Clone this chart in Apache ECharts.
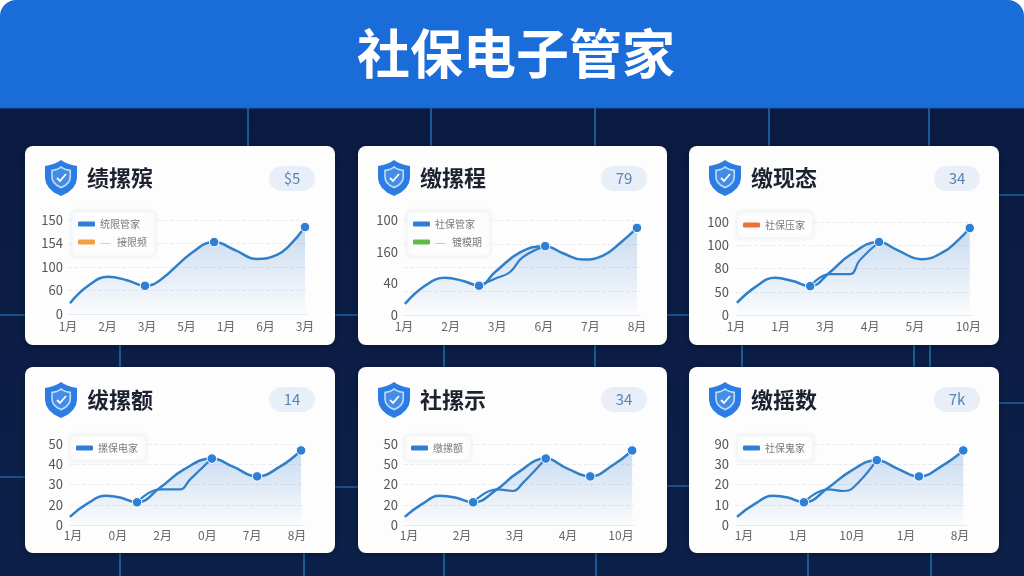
<!DOCTYPE html>
<html>
<head>
<meta charset="utf-8">
<style>html,body{margin:0;padding:0;background:#fff}#c{width:1024px;height:576px}</style>
<script src="https://cdn.jsdelivr.net/npm/echarts@6/dist/echarts.min.js"></script>
</head>
<body>
<div id="c"></div>
<script>
const FONT = '"Noto Sans CJK SC","Noto Sans",sans-serif';
const headerTitle = '社保电子管家';

const titles = ['绩摞殡', '缴摞程', '缴现态', '绂摞额', '社摞示', '缴摇数'];
const badges = ['$5', '79', '34', '14', '34', '7k'];

const chart1Months = ['1月', '2月', '3月', '5月', '1月', '6月', '3月'];
const chart2Months = ['1月', '2月', '3月', '6月', '7月', '8月'];
const chart3Months = ['1月', '1月', '3月', '4月', '5月', '10月'];
const chart4Months = ['1月', '0月', '2月', '0月', '7月', '8月'];
const chart5Months = ['1月', '2月', '3月', '4月', '10月'];
const chart6Months = ['1月', '1月', '10月', '1月', '8月'];

const chart1Ticks = ['0', '60', '100', '154', '150'];
const chart2Ticks = ['0', '40', '160', '100'];
const chart3Ticks = ['0', '50', '80', '100', '100'];
const chart4Ticks = ['0', '20', '30', '40', '50'];
const chart5Ticks = ['0', '20', '20', '50', '50'];
const chart6Ticks = ['0', '10', '20', '30', '90'];

const chart1X = [0.05, 0.51, 1.01, 1.49, 1.95, 2.33, 3.16, 3.70, 4.23, 4.78, 5.29, 5.62, 6.0];
const chart1Y = [23, 60, 79, 72, 60, 72, 132, 153, 136, 117, 126, 147, 185];
const chart2X = [0.02, 0.45, 0.88, 1.27, 1.61, 1.95, 2.49, 3.03, 3.41, 3.84, 4.27, 4.64, 5.0];
const chart2Y = [14, 37, 47, 43, 37, 54, 79, 87, 78, 70, 75, 91, 110];
const chart2BranchX = [1.61, 2.0, 2.27, 2.55, 3.03];
const chart2BranchY = [37, 47, 54, 73, 87];
const chart3X = [0.02, 0.43, 0.87, 1.27, 1.66, 2.1, 2.55, 3.2, 3.6, 4.16, 4.63, 4.97, 5.23];
const chart3Y = [26, 60, 80, 73, 62, 92, 129, 157, 140, 120, 135, 161, 187];
const chart3BranchX = [1.66, 2.1, 2.55, 2.77, 3.2];
const chart3BranchY = [62, 88, 88, 118, 157];
const chart4X = [-0.07, 0.31, 0.74, 1.05, 1.43, 1.94, 2.46, 3.1, 3.57, 4.11, 4.62, 5.09];
const chart4Y = [5, 13, 18, 17, 14, 23, 34, 41, 36, 30, 36, 46];
const chart4BranchX = [1.43, 1.94, 2.39, 2.61, 3.1];
const chart4BranchY = [14, 22, 22, 28, 41];
const chart5X = [-0.08, 0.25, 0.58, 0.87, 1.21, 1.66, 2.04, 2.58, 2.98, 3.42, 3.85, 4.21];
const chart5Y = [5, 13, 18, 17, 14, 22, 32, 41, 35, 30, 37, 46];
const chart5BranchX = [1.21, 1.66, 1.96, 2.15, 2.58];
const chart5BranchY = [14, 22, 21, 26, 41];
const chart6X = [-0.13, 0.2, 0.54, 0.81, 1.11, 1.56, 1.96, 2.46, 2.83, 3.24, 3.69, 4.06];
const chart6Y = [5, 13, 18, 17, 14, 23, 33, 40, 35, 30, 37, 46];
const chart6BranchX = [1.11, 1.56, 1.83, 2.02, 2.46];
const chart6BranchY = [14, 22, 21, 23, 40];

const chart1Marks = [4, 7, 12];
const chart2Marks = [4, 7, 12];
const chart3Marks = [4, 7, 12];
const chart4Marks = [4, 7, 9, 11];
const chart5Marks = [4, 7, 9, 11];
const chart6Marks = [4, 7, 9, 11];

const chart1Legend = ['统限管家', '接限频'];
const chart2Legend = ['社保管家', '镀模期'];
const chart3Legend = ['社保压家'];
const chart4Legend = ['摞保电家'];
const chart5Legend = ['缴摞额'];
const chart6Legend = ['社保鬼家'];

/* ---- layout and style ---- */
const BLUE = '#2f7fc9';
const charts = [
  {x: chart1X, y: chart1Y, marks: chart1Marks, months: chart1Months, ticks: chart1Ticks, legend: chart1Legend,
   legendColors: ['#2f7fd6', '#f0a040'], dash: '#eeb08a', max: 200, interval: 50,
   L: 68, R: 307, T: 220, H: 94, first: 68, step: 39.5, yMargin: 5, xMargin: 6, legendBox: [72, 211]},
  {x: chart2X, y: chart2Y, bx: chart2BranchX, by: chart2BranchY, marks: chart2Marks, months: chart2Months, ticks: chart2Ticks, legend: chart2Legend,
   legendColors: ['#2f7fd6', '#62bb46'], dash: '#8fc0d0', max: 120, interval: 40,
   L: 404, R: 640, T: 220, H: 95, first: 404, step: 46.6, yMargin: 6, xMargin: 5, legendBox: [407, 211]},
  {x: chart3X, y: chart3Y, bx: chart3BranchX, by: chart3BranchY, marks: chart3Marks, months: chart3Months, ticks: chart3Ticks, legend: chart3Legend,
   legendColors: ['#ee7333'], max: 200, interval: 50, custom: [0, 1, 2, 3, 4, 5.2],
   L: 736, R: 972, T: 222, H: 93, first: 736, step: 44.7, yMargin: 7, xMargin: 5, legendBox: [737, 212]},
  {x: chart4X, y: chart4Y, bx: chart4BranchX, by: chart4BranchY, marks: chart4Marks, months: chart4Months, ticks: chart4Ticks, legend: chart4Legend,
   legendColors: ['#2f7fd6'], max: 50, interval: 12.5,
   L: 70, R: 304, T: 444, H: 81, first: 73, step: 44.8, yMargin: 7, xMargin: 4, legendBox: [70, 435]},
  {x: chart5X, y: chart5Y, bx: chart5BranchX, by: chart5BranchY, marks: chart5Marks, months: chart5Months, ticks: chart5Ticks, legend: chart5Legend,
   legendColors: ['#2f7fd6'], max: 50, interval: 12.5,
   L: 404, R: 634, T: 444, H: 81, first: 409, step: 53, yMargin: 6, xMargin: 4, legendBox: [405, 435]},
  {x: chart6X, y: chart6Y, bx: chart6BranchX, by: chart6BranchY, marks: chart6Marks, months: chart6Months, ticks: chart6Ticks, legend: chart6Legend,
   legendColors: ['#2f7fd6'], max: 50, interval: 12.5,
   L: 736, R: 966, T: 444, H: 81, first: 744, step: 54, yMargin: 7, xMargin: 4, legendBox: [737, 435]}
];
const cardX = [[25, 335], [358, 667], [689, 999]];
const cardY = [[146, 345], [367, 553]];
const bgVertical = [
  [248, 108, 146], [431, 108, 146], [595, 108, 146], [769, 108, 146], [929, 108, 146],
  [120, 345, 367], [444, 345, 367], [595, 345, 367], [742, 345, 367], [914, 345, 367], [930, 345, 367],
  [120, 553, 576], [304, 553, 576], [444, 553, 576], [596, 553, 576], [808, 553, 576], [931, 553, 576]
];
const bgHorizontal = [
  [315, 0, 25], [315, 335, 358], [315, 667, 689], [195, 999, 1024],
  [477, 0, 25], [487, 335, 358], [486, 667, 689], [403, 999, 1024]
];

const shieldOutline = [[16,0],[19,2],[23,3.8],[27,5],[32,6],[32,18],[31,23],[28,28],[23,32.5],[16,36],[9,32.5],[4,28],[1,23],[0,18],[0,6],[5,5],[9,3.8],[13,2]];
const shieldAt = (x, y, k) => shieldOutline.map(p => [x + p[0] * k, y + p[1] * k]);
const graphics = [];
graphics.push({type: 'rect', z: -30, shape: {x: 0, y: 60, width: 1024, height: 516},
  style: {fill: {type: 'linear', x: 0, y: 0, x2: 0, y2: 1, colorStops: [{offset: 0, color: '#0a1a42'}, {offset: 1, color: '#0c2049'}]}}});
bgVertical.forEach(v => graphics.push({type: 'line', z: -29, shape: {x1: v[0], y1: v[1], x2: v[0], y2: v[2]}, style: {stroke: '#1a5a96', lineWidth: 2}}));
bgHorizontal.forEach(h => graphics.push({type: 'line', z: -29, shape: {x1: h[1], y1: h[0], x2: h[2], y2: h[0]}, style: {stroke: '#17508c', lineWidth: 2}}));
graphics.push({type: 'rect', z: -28, shape: {x: 0, y: 0, width: 1024, height: 108, r: [16, 16, 0, 0]},
  style: {fill: '#1a6cd8'}});
graphics.push({type: 'line', z: -27, shape: {x1: 0, y1: 108, x2: 1024, y2: 108}, style: {stroke: '#1d5fa8', lineWidth: 1}});
graphics.push({type: 'text', z: 5, x: 516, y: 54, style: {text: headerTitle, fill: '#fff', font: 'bold 53px ' + FONT,
  align: 'center', verticalAlign: 'middle', shadowBlur: 3, shadowColor: 'rgba(0,30,90,.35)', shadowOffsetY: 1}});

charts.forEach((c, i) => {
  const [x0, x1] = cardX[i % 3];
  const [y0, y1] = cardY[Math.floor(i / 3)];
  graphics.push({type: 'rect', z: -20, shape: {x: x0, y: y0, width: x1 - x0, height: y1 - y0, r: 8},
    style: {fill: '#fdfdfd', shadowBlur: 6, shadowColor: 'rgba(0,0,0,.35)', shadowOffsetY: 1}});
  const sx = x0 + 20, sy = y0 + 14 + (i > 2 ? 1 : 0);
  graphics.push({type: 'polygon', z: 3, shape: {points: shieldAt(sx, sy, 1)}, style: {fill: '#2b7de3'}});
  graphics.push({type: 'polygon', z: 3, shape: {points: shieldAt(sx + 7, sy + 7, 0.57)},
    style: {fill: 'rgba(255,255,255,.12)', stroke: '#bfdcfb', lineWidth: 1.6}});
  graphics.push({type: 'polyline', z: 3, shape: {points: [[sx + 12, sy + 18], [sx + 15, sy + 21], [sx + 21, sy + 14]]},
    style: {stroke: '#fff', lineWidth: 1.8, fill: null}});
  graphics.push({type: 'text', z: 3, x: x0 + 62, y: sy + 18, style: {text: titles[i], fill: '#1c2230', font: '600 22px ' + FONT, align: 'left', verticalAlign: 'middle'}});
  const px = x0 + 244 + (i % 3 === 2 ? 1 : (i % 3 === 1 ? -1 : 0)), py = y0 + 20;
  graphics.push({type: 'rect', z: 2, shape: {x: px, y: py, width: 46, height: 25, r: 12.5}, style: {fill: '#e8eff9'}});
  graphics.push({type: 'text', z: 3, x: px + 23, y: py + 12.5, style: {text: badges[i], fill: '#5a83b3', font: '15px ' + FONT, align: 'center', verticalAlign: 'middle'}});
});

const grid = [], xAxis = [], yAxis = [], series = [], legend = [];
charts.forEach((c, i) => {
  grid.push({left: c.L, top: c.T, width: c.R - c.L, height: c.H, containLabel: false});
  const custom = c.custom || c.months.map((_, k) => k);
  xAxis.push({type: 'value', gridIndex: i, min: (c.L - c.first) / c.step, max: (c.R - c.first) / c.step,
    axisLine: {show: true, lineStyle: {color: '#e7ebf1', width: 1}}, axisTick: {show: false}, splitLine: {show: false},
    axisLabel: {customValues: custom, showMinLabel: true, showMaxLabel: true, margin: c.xMargin, color: '#666', fontSize: 12, fontFamily: FONT,
      formatter: v => c.months[custom.indexOf(v)]}});
  yAxis.push({type: 'value', gridIndex: i, min: 0, max: c.max, interval: c.interval,
    axisLine: {show: false}, axisTick: {show: false}, splitLine: {show: false},
    axisLabel: {margin: c.yMargin, color: '#555', fontSize: 13, fontFamily: FONT,
      formatter: v => c.ticks[Math.round(v / c.interval)]}});
  const helperIdx = yAxis.length;
  yAxis.push({type: 'value', gridIndex: i, min: 0, max: 4, interval: 1, position: 'left',
    axisLine: {show: false}, axisTick: {show: false}, axisLabel: {show: false},
    splitLine: {show: true, lineStyle: {color: '#e9ecf1', type: 'dashed', width: 1}}});
  const yIdx = helperIdx - 1;
  series.push({type: 'line', name: titles[i], xAxisIndex: i, yAxisIndex: yIdx, smooth: 0.45, showAllSymbol: true, z: 3,
    lineStyle: {color: BLUE, width: 2.5}, itemStyle: {color: '#2e7fd6', borderColor: '#fff', borderWidth: 1},
    areaStyle: {color: {type: 'linear', x: 0, y: 0, x2: 0, y2: 1, colorStops: [
      {offset: 0, color: 'rgba(55,125,205,.38)'}, {offset: 1, color: 'rgba(55,125,205,.02)'}]}},
    data: c.x.map((vx, k) => ({value: [vx, c.y[k]], symbol: c.marks.includes(k) ? 'circle' : 'none', symbolSize: 9.5}))});
  if (c.bx) {
    series.push({type: 'line', name: titles[i] + '分支', xAxisIndex: i, yAxisIndex: yIdx, smooth: 0.45, showSymbol: false, z: 2,
      lineStyle: {color: BLUE, width: 2.2}, data: c.bx.map((vx, k) => [vx, c.by[k]])});
  }
  c.legend.forEach((name, k) => {
    series.push({type: 'line', name, xAxisIndex: i, yAxisIndex: yIdx, data: [], itemStyle: {color: c.legendColors[k]}, lineStyle: {color: c.legendColors[k]}});
  });
  legend.push({orient: 'vertical', left: c.legendBox[0], top: c.legendBox[1], z: 6,
    data: c.legend.map(name => ({name, icon: 'roundRect'})),
    itemWidth: 17, itemHeight: 5, itemGap: 7, padding: [8, 8, 8, 6], selectedMode: false,
    backgroundColor: 'rgba(254,254,254,.92)', borderColor: '#f0f2f5', borderWidth: 1, borderRadius: 4,
    shadowBlur: 4, shadowColor: 'rgba(60,80,120,.08)',
    textStyle: {color: '#7a7a7a', fontSize: 10, fontFamily: FONT,
      rich: {d: {color: c.dash || '#999', fontSize: 12, width: 17}, t: {color: '#7a7a7a', fontSize: 10, fontFamily: FONT}}},
    formatter: name => c.legend.indexOf(name) === 1 ? '{d|—}{t|' + name + '}' : name});
});

const chart = echarts.init(document.getElementById('c'), null, {renderer: 'canvas'});
chart.setOption({animation: false, backgroundColor: 'transparent', graphic: {elements: graphics}, grid, xAxis, yAxis, series, legend});
</script>
</body>
</html>
